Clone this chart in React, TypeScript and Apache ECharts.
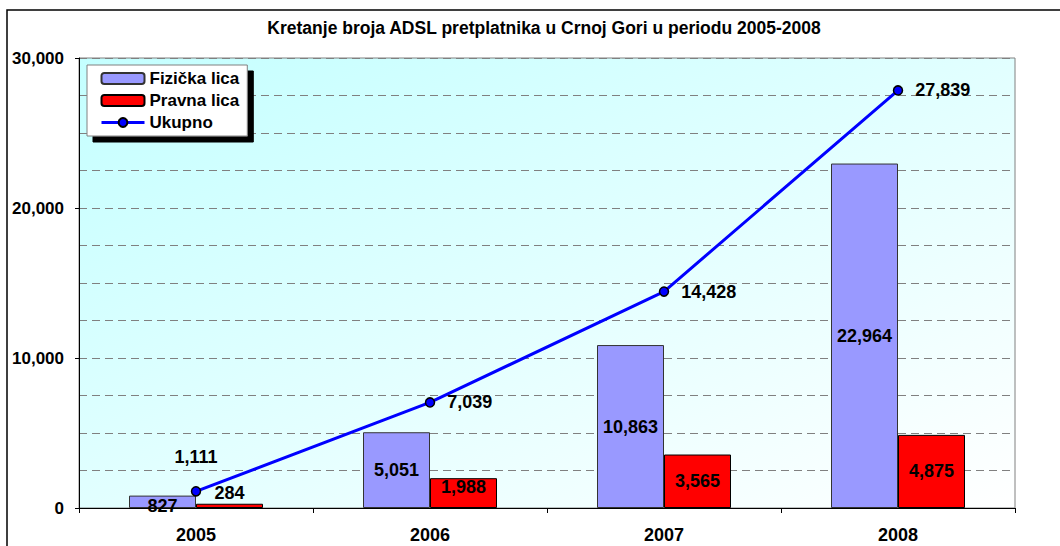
import React, { useEffect, useRef } from "react";
import * as echarts from "echarts";

const categories = ["2005", "2006", "2007", "2008"];
const fizickaLica = [827, 5051, 10863, 22964];
const pravnaLica = [284, 1988, 3565, 4875];
const ukupno = [1111, 7039, 14428, 27839];
const yTicks = [0, 10000, 20000, 30000];

const fmt = (v: number) => v.toLocaleString("en-US");
const FONT = "'Liberation Sans', Arial, sans-serif";

export default function App() {
  const ref = useRef<HTMLDivElement>(null);
  useEffect(() => {
    if (!ref.current) return;
    const chart = echarts.init(ref.current, undefined, { renderer: "svg" });
    const labelStyle = {
      fontFamily: FONT,
      fontWeight: "bold" as const,
      fontSize: 18,
      color: "#000",
      formatter: (p: any) => fmt(p.value),
    };
    chart.setOption({
      animation: false,
      backgroundColor: "#fff",
      textStyle: { fontFamily: FONT },
      title: {
        text: "Kretanje broja ADSL pretplatnika u Crnoj Gori u periodu 2005-2008",
        left: 539,
        top: 14,
        textAlign: "center",
        textStyle: { fontFamily: FONT, fontWeight: "bold", fontSize: 17.5, color: "#000" },
      },
      graphic: [
        {
          type: "rect",
          shape: { x: 7, y: 10, width: 1070, height: 600 },
          style: { fill: "none", stroke: "#000", lineWidth: 1.5 },
          silent: true,
        },
      ],
      legend: {
        orient: "vertical",
        left: 87,
        top: 65,
        padding: [5, 8, 5, 13],
        itemWidth: 43,
        itemHeight: 11,
        itemGap: 5,
        backgroundColor: "#fff",
        borderColor: "#808080",
        borderWidth: 1,
        shadowColor: "#000",
        shadowOffsetX: 6,
        shadowOffsetY: 6,
        shadowBlur: 0,
        textStyle: { fontFamily: FONT, fontWeight: "bold", fontSize: 17, color: "#000" },
        data: [
          "Fizička lica",
          "Pravna lica",
          { name: "Ukupno", lineStyle: { width: 3, color: "#0000ff" } },
        ],
      },
      grid: {
        left: 79,
        right: 45,
        top: 58,
        bottom: 38,
        show: true,
        borderColor: "#808080",
        borderWidth: 1,
        backgroundColor: {
          type: "linear",
          x: 0,
          y: 0,
          x2: 1,
          y2: 1,
          colorStops: [
            { offset: 0, color: "#c4ffff" },
            { offset: 1, color: "#ffffff" },
          ],
        },
      },
      xAxis: {
        type: "category",
        data: categories,
        boundaryGap: true,
        axisLine: { lineStyle: { color: "#000", width: 1 } },
        axisTick: { show: true, length: 5, lineStyle: { color: "#000" } },
        axisLabel: { margin: 18, fontFamily: FONT, fontWeight: "bold", fontSize: 18, color: "#000" },
        splitLine: { show: false },
      },
      yAxis: {
        type: "value",
        min: yTicks[0],
        max: yTicks[yTicks.length - 1],
        interval: 10000,
        axisLine: { show: true, lineStyle: { color: "#000", width: 1 } },
        axisTick: { show: true, length: 4, lineStyle: { color: "#000" } },
        axisLabel: {
          margin: 15,
          fontFamily: FONT,
          fontWeight: "bold",
          fontSize: 17,
          color: "#000",
          formatter: (v: number) => fmt(v),
        },
        splitLine: { show: true, lineStyle: { color: "#808080", type: [8, 5], width: 1 } },
        minorTick: { show: false, splitNumber: 4 },
        minorSplitLine: { show: true, lineStyle: { color: "#808080", type: [8, 5], width: 1 } },
      },
      series: [
        {
          name: "Fizička lica",
          type: "bar",
          barWidth: 67,
          barGap: "0%",
          data: fizickaLica.map((v, i) =>
            i === 0 ? { value: v, label: { position: "inside", offset: [0, 4] } } : v
          ),
          itemStyle: { color: "#9999ff", borderColor: "#333", borderWidth: 1 },
          label: { show: true, position: "inside", ...labelStyle },
        },
        {
          name: "Pravna lica",
          type: "bar",
          barWidth: 67,
          barGap: "0%",
          data: pravnaLica.map((v, i) =>
            i === 0
              ? { value: v, label: { position: "top", distance: 2 } }
              : i === 1
              ? { value: v, label: { position: "insideTop", distance: 0 } }
              : v
          ),
          itemStyle: { color: "#ff0000", borderColor: "#000", borderWidth: 1 },
          label: { show: true, position: "inside", ...labelStyle },
        },
        {
          name: "Ukupno",
          type: "line",
          data: ukupno.map((v, i) =>
            i === 0 ? { value: v, label: { position: "top", distance: 20 } } : v
          ),
          symbol: "circle",
          symbolSize: 9,
          lineStyle: { color: "#0000ff", width: 3 },
          itemStyle: { color: "#0000ff", borderColor: "#000", borderWidth: 1.5 },
          label: { show: true, position: "right", distance: 12, ...labelStyle },
          z: 5,
        },
      ],
    });
    return () => chart.dispose();
  }, []);
  return (
    <div
      ref={ref}
      style={{ position: "absolute", left: 0, top: 0, width: 1060, height: 546 }}
    />
  );
}
